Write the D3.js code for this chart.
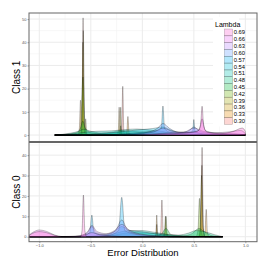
<!DOCTYPE html>
<html>
<head>
<meta charset="utf-8">
<script src="https://cdn.jsdelivr.net/npm/d3@7"></script>
<style>
  body { margin: 0; background: #fff; }
  svg { display: block; font-family: "Liberation Sans", Arial, sans-serif; }
</style>
</head>
<body>
<div id="viz"></div>
<script>
// lambda levels, in factor order (drawn first to last)
var lambdas = ['0.30','0.33','0.36','0.39','0.42','0.45','0.48','0.51','0.54','0.57','0.60','0.63','0.66','0.69'];
var lambdaColors = ['#F8766D','#E58700','#C99800','#A3A500','#6BB100','#00BA38','#00BF7D',
                    '#00C0AF','#00BCD8','#00B0F6','#619CFF','#B983FF','#E76BF3','#FD61D1'];

var xTicks = [-1.0, -0.5, 0.0, 0.5, 1.0];
var xMinor = [-0.75, -0.25, 0.25, 0.75];
var yTicksTop = [0, 10, 20, 30, 40, 50];
var yTicksBottom = [0, 10, 20, 30, 40];

// density outlines, one vertex list per lambda: [error, density]
var class1Curves = [
  [[-0.85,0],[-0.6,0],[-0.585,2.5],[-0.575,50.5],[-0.565,2.5],[-0.55,0],[-0.21,0],[-0.2,2],[-0.19,21],[-0.18,2],[-0.17,0],[1.0,0]],
  [[-0.85,0],[-0.63,0],[-0.612,2.5],[-0.6,15],[-0.588,2.5],[-0.57,0],[-0.16,0],[-0.15,1.5],[-0.14,8],[-0.13,1.5],[-0.12,0],[1.0,0]],
  [[-0.85,0],[-0.6,0],[-0.587,4],[-0.577,40],[-0.567,4],[-0.56,1],[-0.55,7],[-0.54,1],[-0.53,0],[-0.245,0],[-0.233,2],[-0.225,12],[-0.217,2],[-0.205,0],[1.0,0]],
  [[-0.85,0],[-0.6,0],[-0.585,4],[-0.573,45],[-0.561,4],[-0.545,0],[-0.23,0],[-0.218,2],[-0.21,12],[-0.202,2],[-0.19,0],[1.0,0]],
  [[-0.85,0],[-0.62,0],[-0.6,3],[-0.576,25],[-0.555,3],[-0.53,0],[-0.23,0],[-0.215,1],[-0.21,4],[-0.205,1],[-0.19,0],[1.0,0]],
  [[-0.85,0],[-0.75,0.3],[-0.64,1],[-0.6,3],[-0.577,6],[-0.555,3],[-0.5,1],[-0.4,0.5],[-0.25,1],[-0.2,1.5],[-0.1,0.5],[0.1,0.2],[0.3,0],[1.0,0]],
  [[-0.85,0],[-0.7,0.8],[-0.62,1.6],[-0.57,2.5],[-0.5,1.6],[-0.4,0.9],[-0.3,1.2],[-0.2,2],[-0.1,1.6],[0.05,1.2],[0.2,0.8],[0.35,0.3],[0.5,0],[1.0,0]],
  [[-0.85,0],[-0.7,0.4],[-0.55,1.2],[-0.45,1.6],[-0.3,1.8],[-0.15,2.4],[-0.05,2.6],[0.1,2],[0.2,1.5],[0.3,0.6],[0.45,0.2],[0.6,0],[1.0,0]],
  [[-0.85,0],[-0.6,0.2],[-0.4,0.7],[-0.2,1.4],[-0.05,2.2],[0.1,2.8],[0.2,3.5],[0.27,2.2],[0.4,1],[0.5,1.2],[0.6,0.4],[0.8,0],[1.0,0]],
  [[-0.85,0],[-0.4,0],[-0.2,0.5],[0.0,1.2],[0.15,2],[0.185,3],[0.2,12.5],[0.215,3],[0.25,1.5],[0.35,0.8],[0.47,1.2],[0.49,2],[0.5,6.7],[0.51,2],[0.55,0.8],[0.7,0.2],[1.0,0]],
  [[-0.85,0],[-0.3,0],[-0.1,0.4],[0.05,1.2],[0.15,3],[0.2,5],[0.26,3],[0.35,1.2],[0.44,1.5],[0.5,3.5],[0.56,1.5],[0.7,0.5],[0.85,0.2],[1.0,0]],
  [[-0.85,0],[-0.2,0],[0.0,0.6],[0.12,1.5],[0.2,3],[0.3,1.5],[0.4,1.2],[0.5,3],[0.6,1.5],[0.75,0.8],[0.9,0.6],[1.0,0]],
  [[-0.85,0],[-0.1,0],[0.1,0.5],[0.3,1],[0.45,1.2],[0.55,2],[0.58,7],[0.61,2],[0.7,1],[0.85,1.4],[0.95,2],[1.0,0.6],[1.0,0]],
  [[-0.85,0],[0.0,0],[0.2,0.4],[0.4,0.8],[0.53,1.5],[0.565,4],[0.58,12.4],[0.595,4],[0.63,1.2],[0.75,0.6],[0.88,1.5],[0.97,3],[1.0,1.5],[1.0,0]]
];

var class0Curves = [
  [[-1.1,0],[0.16,0],[0.178,2],[0.19,18],[0.202,2],[0.22,0],[0.55,0],[0.568,4],[0.58,43.8],[0.592,4],[0.61,0],[0.78,0]],
  [[-1.1,0],[0.12,0],[0.132,1.5],[0.14,10.6],[0.148,1.5],[0.16,0],[0.59,0],[0.608,2],[0.62,13.4],[0.632,2],[0.65,0],[0.78,0]],
  [[-1.1,0],[0.12,0],[0.133,1],[0.14,6],[0.147,1],[0.16,0],[0.55,0],[0.566,4],[0.578,35],[0.59,4],[0.61,0],[0.78,0]],
  [[-1.1,0],[0.2,0],[0.215,1.5],[0.225,10],[0.235,1.5],[0.25,0],[0.545,0],[0.561,5],[0.575,30],[0.589,5],[0.605,0],[0.78,0]],
  [[-1.1,0],[0.205,0],[0.22,2],[0.23,10],[0.24,2],[0.255,0],[0.52,0],[0.54,3],[0.555,18.8],[0.57,3],[0.59,0],[0.78,0]],
  [[-1.1,0],[0.1,0],[0.18,1],[0.23,4],[0.28,1],[0.4,0.5],[0.48,1.5],[0.55,4],[0.6,2.5],[0.68,0.5],[0.78,0]],
  [[-1.1,0],[-0.35,0],[-0.25,1],[-0.1,2],[0.05,1.8],[0.2,1.2],[0.35,0.8],[0.45,1.8],[0.52,3],[0.6,2.5],[0.7,1],[0.78,0]],
  [[-1.1,0],[-0.45,0],[-0.3,1],[-0.2,2.5],[-0.1,3],[0.0,3],[0.1,2.3],[0.2,1.5],[0.3,0.6],[0.45,0.3],[0.6,0],[0.78,0]],
  [[-1.1,0],[-0.6,0],[-0.4,0.8],[-0.28,2.2],[-0.2,5],[-0.12,3],[0.0,2.4],[0.12,1.5],[0.25,0.5],[0.4,0],[0.78,0]],
  [[-1.1,0],[-0.6,0],[-0.51,2],[-0.49,10.6],[-0.47,2],[-0.35,0.5],[-0.23,3],[-0.2,19.3],[-0.17,3],[-0.05,1],[0.1,0.3],[0.3,0],[0.78,0]],
  [[-1.1,0],[-0.62,0],[-0.53,2],[-0.49,5],[-0.45,2],[-0.35,1],[-0.26,3],[-0.2,8.2],[-0.14,3],[-0.02,1],[0.15,0.3],[0.35,0],[0.78,0]],
  [[-1.1,0],[-0.7,0],[-0.6,0.6],[-0.53,2.5],[-0.49,5.5],[-0.44,2.5],[-0.35,1.5],[-0.27,3],[-0.2,6],[-0.12,3],[0.0,1.2],[0.2,0.3],[0.4,0],[0.78,0]],
  [[-1.1,0.8],[-1.05,2.5],[-1.0,3.3],[-0.93,2.6],[-0.85,0.8],[-0.78,0.1],[-0.65,0.3],[-0.55,1],[-0.49,2],[-0.42,1],[-0.3,0.4],[-0.1,0],[0.78,0]],
  [[-1.1,0.6],[-1.05,2],[-1.0,2.5],[-0.93,2],[-0.85,0.6],[-0.78,0],[-0.6,0],[-0.585,3],[-0.572,20.4],[-0.558,3],[-0.54,0],[0.78,0]]
];

var W = 270, H = 270;
var panelLeft = 29, panelRight = 257;
var topPanel = {y0: 13, y1: 141.5, domain: [-2.78, 52.6], ticks: yTicksTop, curves: class1Curves, label: 'Class 1'};
var bottomPanel = {y0: 142.5, y1: 241.7, domain: [-2.45, 46.2], ticks: yTicksBottom, curves: class0Curves, label: 'Class 0'};

var svg = d3.select('#viz').append('svg').attr('width', W).attr('height', H);

var x = d3.scaleLinear().domain([-1.1, 1.113]).range([panelLeft, panelRight]);

function drawPanel(p, idx, showXAxis) {
  var y = d3.scaleLinear().domain(p.domain).range([p.y1, p.y0]);
  var g = svg.append('g');

  g.append('rect')
    .attr('x', panelLeft).attr('y', p.y0)
    .attr('width', panelRight - panelLeft).attr('height', p.y1 - p.y0)
    .attr('fill', '#fff');

  // minor grid
  var yMinor = p.ticks.map(d => d + 5).filter(d => d < p.domain[1]);
  g.selectAll('.xminor').data(xMinor).join('line')
    .attr('x1', d => x(d)).attr('x2', d => x(d))
    .attr('y1', p.y0).attr('y2', p.y1)
    .attr('stroke', '#f3f3f3').attr('stroke-width', 0.6);
  g.selectAll('.yminor').data(yMinor).join('line')
    .attr('x1', panelLeft).attr('x2', panelRight)
    .attr('y1', d => y(d)).attr('y2', d => y(d))
    .attr('stroke', '#f3f3f3').attr('stroke-width', 0.6);
  // major grid
  g.selectAll('.xmajor').data(xTicks).join('line')
    .attr('x1', d => x(d)).attr('x2', d => x(d))
    .attr('y1', p.y0).attr('y2', p.y1)
    .attr('stroke', '#ebebeb').attr('stroke-width', 1);
  g.selectAll('.ymajor').data(p.ticks).join('line')
    .attr('x1', panelLeft).attr('x2', panelRight)
    .attr('y1', d => y(d)).attr('y2', d => y(d))
    .attr('stroke', '#ebebeb').attr('stroke-width', 1);

  var clipId = 'clip' + idx;
  svg.append('clipPath').attr('id', clipId).append('rect')
    .attr('x', panelLeft).attr('y', p.y0)
    .attr('width', panelRight - panelLeft).attr('height', p.y1 - p.y0);

  var area = d3.area()
    .x(d => x(d[0])).y0(y(0)).y1(d => y(d[1]))
    .curve(d3.curveMonotoneX);

  g.append('g').attr('clip-path', 'url(#' + clipId + ')')
    .selectAll('path')
    .data(p.curves)
    .join('path')
    .attr('d', d => area(d))
    .attr('fill', (d, i) => lambdaColors[i])
    .attr('fill-opacity', 0.3)
    .attr('stroke', '#000')
    .attr('stroke-opacity', 0.5)
    .attr('stroke-width', 0.5);

  g.append('rect')
    .attr('x', panelLeft).attr('y', p.y0)
    .attr('width', panelRight - panelLeft).attr('height', p.y1 - p.y0)
    .attr('fill', 'none').attr('stroke', '#666').attr('stroke-width', 1);

  // y axis
  var yAxis = d3.axisLeft(y).tickValues(p.ticks).tickSize(1.5).tickPadding(1).tickFormat(d3.format('d'));
  var ya = g.append('g').attr('transform', 'translate(' + panelLeft + ',0)').call(yAxis);
  ya.select('.domain').remove();
  ya.selectAll('line').attr('stroke', '#555').attr('stroke-width', 0.5);
  ya.selectAll('text').attr('fill', '#555').style('font-size', '4px');

  g.append('text')
    .attr('transform', 'translate(20,' + ((p.y0 + p.y1) / 2) + ') rotate(-90)')
    .attr('text-anchor', 'middle')
    .style('font-size', '10px')
    .attr('fill', '#000')
    .text(p.label);

  if (showXAxis) {
    var xAxis = d3.axisBottom(x).tickValues(xTicks).tickSize(1.5).tickPadding(0.5).tickFormat(d3.format('.1f'));
    var xa = g.append('g').attr('transform', 'translate(0,' + p.y1 + ')').call(xAxis);
    xa.select('.domain').remove();
    xa.selectAll('line').attr('stroke', '#555').attr('stroke-width', 0.5);
    xa.selectAll('text').attr('fill', '#555').style('font-size', '4px');
  }
}

drawPanel(topPanel, 0, false);
drawPanel(bottomPanel, 1, true);

svg.append('text')
  .attr('x', (panelLeft + panelRight) / 2).attr('y', 255.5)
  .attr('text-anchor', 'middle')
  .style('font-size', '9.5px')
  .text('Error Distribution');

// legend inside the top panel
var legend = svg.append('g');
var keyX = 224.3, keyW = 8.4, keyTop = 29, keyH = 6.82;
var legendOrder = lambdas.map((d, i) => i).reverse();

legend.append('rect')
  .attr('x', 213).attr('y', 17).attr('width', 26).attr('height', keyTop + keyH * 14 - 17 + 2)
  .attr('fill', '#fff');
legend.append('text')
  .attr('x', 215).attr('y', 27)
  .style('font-size', '7px')
  .text('Lambda');
legend.selectAll('.key').data(legendOrder).join('rect')
  .attr('x', keyX).attr('y', (d, j) => keyTop + j * keyH)
  .attr('width', keyW).attr('height', keyH)
  .attr('fill', d => lambdaColors[d]).attr('fill-opacity', 0.3)
  .attr('stroke', '#000').attr('stroke-opacity', 0.3).attr('stroke-width', 0.5);
legend.selectAll('.keylab').data(legendOrder).join('text')
  .attr('x', keyX + keyW + 1).attr('y', (d, j) => keyTop + j * keyH + keyH / 2 + 2)
  .style('font-size', '5.8px')
  .text(d => lambdas[d]);
</script>
</body>
</html>
